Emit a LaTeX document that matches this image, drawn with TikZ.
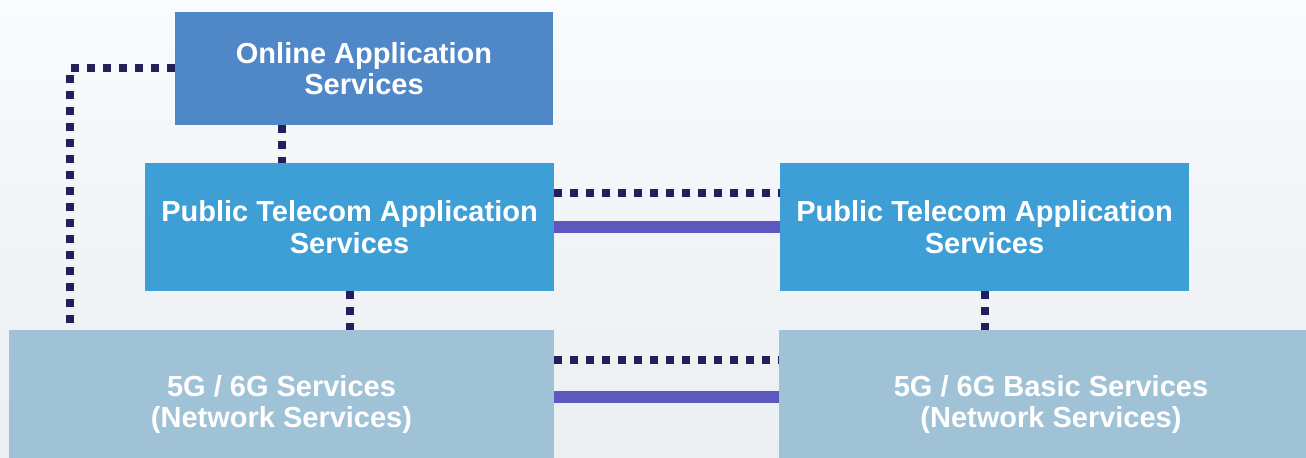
\documentclass[tikz,border=0pt]{standalone}
\usepackage{fontspec}
\setmainfont{Liberation Sans}
\usetikzlibrary{calc}

\definecolor{onlineblue}{HTML}{5087C7}
\definecolor{telecomblue}{HTML}{3E9ED6}
\definecolor{netblue}{HTML}{A0C2D7}
\definecolor{dotnavy}{HTML}{221F5B}
\definecolor{linkviolet}{HTML}{5C58BE}
\definecolor{bgtop}{HTML}{F9FBFE}
\definecolor{bgbottom}{HTML}{EBEFF1}

\tikzset{
  svcbox/.style={fill=#1, text=white, inner sep=0pt, align=center,
    font=\bfseries\fontsize{16.5}{17.9}\selectfont},
  dotted link/.style={draw=dotnavy, line width=0.16cm, dash pattern=on 0.16cm off 0.16cm},
  solid link/.style={draw=linkviolet, line width=0.23cm}
}

\begin{document}
\begin{tikzpicture}
\useasboundingbox (0,0) rectangle (26.12,9.16);
\clip (0,0) rectangle (26.12,9.16);
\shade[top color=bgtop, bottom color=bgbottom] (0,0) rectangle (26.12,9.16);

\node (oa) at (7.28,7.79) [svcbox=onlineblue, minimum width=7.56cm, minimum height=2.26cm] {Online Application\\Services};
\node (pt0) at (6.99,4.62) [svcbox=telecomblue, minimum width=8.18cm, minimum height=2.56cm] {Public Telecom Application\\Services};
\node (pt1) at (19.69,4.62) [svcbox=telecomblue, minimum width=8.18cm, minimum height=2.56cm] {Public Telecom Application\\Services};
\node (ns0) at (5.63,1.07) [svcbox=netblue, minimum width=10.9cm, minimum height=2.98cm] {5G / 6G Services\\(Network Services)};
\node (ns1) at (21.02,1.07) [svcbox=netblue, minimum width=10.88cm, minimum height=2.98cm] {5G / 6G Basic Services\\(Network Services)};

\draw[dotted link] (oa.west) -| ($(ns0.north west)+(1.22,0)$);
\draw[dotted link] (oa.south -| ns0.north) -- (pt0.north -| ns0.north);

\foreach \x in {0, 1} {
  \draw[dotted link] (pt\x.south) -- (pt\x.south |- ns\x.north);
}

\foreach \a/\b/\d/\s in {pt0/pt1/0.68/0, ns0/ns1/0.89/0.15} {
  \draw[dotted link] ($(\a.east)+(0,\d)$) -- ($(\b.west)+(0,\d)$);
  \draw[solid link] ($(\a.east)+(0,\s)$) -- ($(\b.west)+(0,\s)$);
}
\end{tikzpicture}
\end{document}
